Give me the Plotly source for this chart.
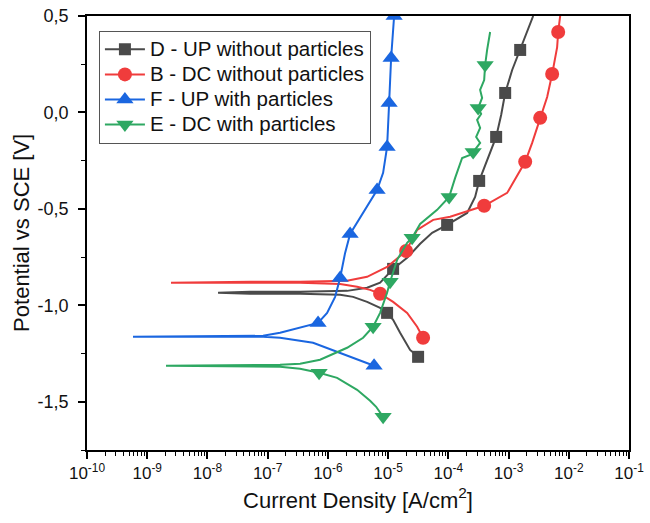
import plotly.graph_objects as go

# ---- data (log10 of current density [A/cm2], potential [V vs SCE]) ----
# D - UP without particles
d_log_i = [-4.502, -4.635, -4.801, -4.917, -5.017, -5.133, -5.349, -5.581, -5.797, -6.462, -7.292, -7.824,
           -7.292, -6.462, -5.681, -5.349, -5.133, -5.017, -4.917, -4.684, -4.468, -4.269, -4.020, -3.688,
           -3.555, -3.488, -3.339, -3.206, -3.123, -3.056, -2.940, -2.807, -2.591]
d_pot = [-1.267, -1.231, -1.142, -1.075, -1.039, -1.013, -0.982, -0.956, -0.945, -0.940, -0.940, -0.935,
         -0.930, -0.930, -0.925, -0.909, -0.883, -0.842, -0.811, -0.754, -0.681, -0.624, -0.583, -0.521,
         -0.438, -0.355, -0.236, -0.127, -0.013, 0.101, 0.220, 0.324, 0.500]
d_marks = [0, 4, 18, 22, 25, 27, 29, 31]

# B - DC without particles
b_log_i = [-4.419, -4.518, -4.684, -4.917, -5.133, -5.299, -5.515, -5.797, -6.462, -7.292, -8.605,
           -7.292, -6.462, -5.681, -5.349, -5.017, -4.801, -4.701, -4.518, -4.252, -3.970, -3.522, -3.405,
           -3.023, -2.807, -2.724, -2.608, -2.475, -2.359, -2.276, -2.193, -2.176, -2.143]
b_pot = [-1.168, -1.111, -1.039, -0.982, -0.940, -0.920, -0.904, -0.889, -0.883, -0.883, -0.883,
         -0.878, -0.878, -0.873, -0.852, -0.801, -0.744, -0.718, -0.609, -0.557, -0.541, -0.495, -0.484,
         -0.417, -0.298, -0.256, -0.158, -0.028, 0.080, 0.199, 0.339, 0.417, 0.500]
b_marks = [0, 4, 17, 22, 25, 27, 29, 31]

# F - UP with particles
f_log_i = [-5.233, -5.797, -6.246, -6.794, -7.076, -9.236,
           -7.076, -6.794, -6.462, -6.163, -6.013, -5.880, -5.797, -5.714, -5.631, -5.415, -5.183,
           -5.083, -5.017, -4.983, -4.950, -4.900]
f_pot = [-1.313, -1.246, -1.194, -1.168, -1.163, -1.163,
         -1.158, -1.142, -1.117, -1.091, -1.039, -0.956, -0.858, -0.728, -0.630, -0.521, -0.402,
         -0.313, -0.179, 0.049, 0.282, 0.500]
f_marks = [0, 9, 12, 14, 16, 18, 19, 20, 21]

# E - DC with particles
e_log_i = [-5.083, -5.199, -5.299, -5.515, -5.847, -6.146, -6.462, -6.794, -8.688,
           -6.794, -6.462, -6.130, -5.681, -5.415, -5.249, -5.133, -5.017, -4.967, -4.850, -4.684,
           -4.601, -4.468, -4.186, -3.987, -3.887, -3.771, -3.638, -3.588, -3.472, -3.538, -3.472,
           -3.522, -3.455, -3.505, -3.439, -3.472, -3.405, -3.389, -3.356, -3.322, -3.306]
e_pot = [-1.578, -1.526, -1.495, -1.438, -1.376, -1.350, -1.329, -1.319, -1.313,
         -1.308, -1.303, -1.282, -1.220, -1.168, -1.111, -1.039, -0.935, -0.878, -0.764, -0.676,
         -0.650, -0.578, -0.505, -0.438, -0.339, -0.236, -0.220, -0.205, -0.158, -0.127, -0.080,
         -0.039, -0.008, 0.023, 0.075, 0.117, 0.168, 0.246, 0.324, 0.376, 0.417]
e_marks = [0, 5, 14, 17, 20, 23, 27, 33, 37]

x_tick_exponents = [-10, -9, -8, -7, -6, -5, -4, -3, -2, -1]
y_tick_values = [-1.5, -1.0, -0.5, 0.0, 0.5]
y_tick_labels = ["-1,5", "-1,0", "-0,5", "0,0", "0,5"]

series = [
    ("D - UP without particles", d_log_i, d_pot, d_marks, "#4a4a4a", "square", 12),
    ("B - DC without particles", b_log_i, b_pot, b_marks, "#f03c3c", "circle", 14),
    ("F - UP with particles", f_log_i, f_pot, f_marks, "#1a66e0", "triangle-up", 15),
    ("E - DC with particles", e_log_i, e_pot, e_marks, "#2ea862", "triangle-down", 15),
]

fig = go.Figure()
for name, logi, pot, marks, color, symbol, msize in series:
    cur = [10 ** v for v in logi]
    fig.add_trace(go.Scatter(x=cur, y=pot, mode="lines", line=dict(color=color, width=2),
                             showlegend=False, legendgroup=name, hoverinfo="skip"))
    fig.add_trace(go.Scatter(x=[cur[i] for i in marks], y=[pot[i] for i in marks], mode="markers",
                             marker=dict(color=color, symbol=symbol, size=msize, line=dict(width=0)),
                             showlegend=False, legendgroup=name))
    fig.add_trace(go.Scatter(x=[None], y=[None], mode="lines+markers",
                             name='<span style="font-size:20.5px">%s</span>' % name, legendgroup=name,
                             line=dict(color=color, width=2),
                             marker=dict(color=color, symbol=symbol, size=msize, line=dict(width=0))))

FONT = "Liberation Sans, Arial, sans-serif"
x_tick_font = dict(family=FONT, size=17, color="#111111")
y_tick_font = dict(family=FONT, size=18, color="#111111")
title_font = dict(family=FONT, size=22, color="#111111")

fig.update_layout(
    width=650, height=523,
    margin=dict(l=87, r=21, t=16, b=73),
    paper_bgcolor="white", plot_bgcolor="white",
    font=dict(family=FONT),
    showlegend=True,
    legend=dict(x=0.022, y=0.966, xanchor="left", yanchor="top",
                bgcolor="white", bordercolor="#555555", borderwidth=1,
                font=dict(family=FONT, size=17, color="#111111"),
                tracegroupgap=0, itemwidth=40),
    xaxis=dict(type="log", range=[-10, -1], automargin=False,
               tickmode="array",
               tickvals=[10 ** e for e in x_tick_exponents],
               ticktext=["10<sup>%d</sup>" % e for e in x_tick_exponents],
               ticks="outside", ticklen=7, tickwidth=1.5, tickcolor="black",
               ticklabelstandoff=0,
               minor=dict(dtick="D1", ticks="outside", ticklen=4, tickwidth=1, tickcolor="black"),
               showline=True, linecolor="black", linewidth=1.5, mirror=True,
               showgrid=False, zeroline=False,
               tickfont=x_tick_font,
               title=dict(text="Current Density [A/cm<sup>2</sup>]", font=title_font, standoff=10)),
    yaxis=dict(range=[-1.75, 0.5], automargin=False,
               tickmode="array", tickvals=y_tick_values, ticktext=y_tick_labels,
               ticks="outside", ticklen=7, tickwidth=1.5, tickcolor="black",
               ticklabelstandoff=6,
               minor=dict(dtick=0.25, ticks="outside", ticklen=4, tickwidth=1, tickcolor="black"),
               showline=True, linecolor="black", linewidth=1.5, mirror=True,
               showgrid=False, zeroline=False,
               tickfont=y_tick_font),
    annotations=[dict(text="Potential vs SCE [V]", textangle=-90, font=title_font,
                      xref="paper", yref="paper", x=-0.122, y=0.5,
                      xanchor="center", yanchor="middle", showarrow=False)],
)

fig.write_html("out.html", config={"displayModeBar": False},
               post_script="document.body.style.margin='0px';document.body.style.overflow='hidden';")
